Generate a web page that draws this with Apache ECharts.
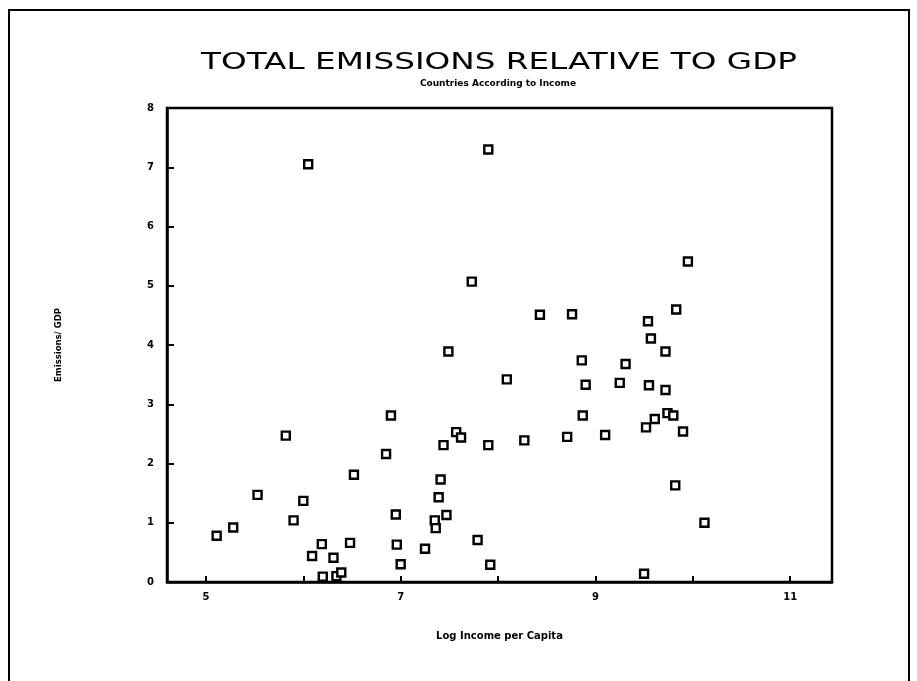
<!DOCTYPE html>
<html>
<head>
<meta charset="utf-8">
<title>Total Emissions Relative to GDP</title>
<script src="https://cdn.jsdelivr.net/npm/echarts@6/dist/echarts.min.js"></script>
<style>
  html, body { margin: 0; padding: 0; background: #fff; }
  #chart { width: 917px; height: 681px; }
</style>
</head>
<body>
<div id="chart"></div>
<script>
// Log income per capita for each country
const logIncome = [
  5.11, 5.28, 5.53, 5.82, 5.90, 6.00, 6.05, 6.09, 6.19, 6.20,
  6.31, 6.34, 6.39, 6.48, 6.52, 6.85, 6.90, 6.95, 6.96, 7.00,
  7.25, 7.35, 7.36, 7.39, 7.41, 7.44, 7.47, 7.49, 7.57, 7.62,
  7.73, 7.79, 7.90, 7.90, 7.92, 8.09, 8.27, 8.43, 8.71, 8.76,
  8.86, 8.87, 8.90, 9.10, 9.25, 9.31, 9.50, 9.52, 9.54, 9.55,
  9.57, 9.61, 9.72, 9.72, 9.74, 9.80, 9.82, 9.83, 9.90, 9.95,
  10.12
];
// Total emissions divided by GDP, same country order
const emissionsPerGdp = [
  0.78, 0.92, 1.47, 2.47, 1.04, 1.37, 7.05, 0.44, 0.64, 0.09,
  0.41, 0.10, 0.16, 0.66, 1.81, 2.16, 2.81, 1.14, 0.63, 0.30,
  0.56, 1.04, 0.91, 1.43, 1.73, 2.31, 1.13, 3.89, 2.53, 2.44,
  5.07, 0.71, 7.30, 2.31, 0.29, 3.42, 2.39, 4.51, 2.45, 4.52,
  3.74, 2.81, 3.33, 2.48, 3.36, 3.68, 0.14, 2.61, 4.40, 3.32,
  4.11, 2.75, 3.89, 3.24, 2.85, 2.81, 1.63, 4.60, 2.54, 5.41,
  1.00
];
// Axis tick positions and labelled values
const xTicks = [5, 6, 7, 8, 9, 10, 11];
const xLabels = [5, 7, 9, 11];
const yTicks = [0, 1, 2, 3, 4, 5, 6, 7, 8];

const titleText = 'TOTAL EMISSIONS RELATIVE TO GDP';
const subtitleText = 'Countries According to Income';
const xName = 'Log Income per Capita';
const yName = 'Emissions/ GDP';

const points = logIncome.map((x, i) => [x, emissionsPerGdp[i]]);

const chart = echarts.init(document.getElementById('chart'), null, { renderer: 'canvas' });
const labelFont = { color: '#000', fontFamily: 'DejaVu Sans', fontWeight: 'bold', fontSize: 10 };

chart.setOption({
  animation: false,
  backgroundColor: '#fff',
  grid: {
    left: 167, right: 85, top: 108, bottom: 99,
    show: true, borderColor: '#000', borderWidth: 2.5, backgroundColor: 'transparent'
  },
  graphic: [
    {
      type: 'rect', silent: true,
      shape: { x: 9, y: 10, width: 900, height: 720 },
      style: { fill: 'none', stroke: '#000', lineWidth: 2 }
    },
    {
      type: 'text', x: 499, y: 63, scaleX: 1.42, silent: true,
      style: {
        text: titleText, x: 0, y: 0,
        align: 'center', verticalAlign: 'middle',
        textAlign: 'center', textVerticalAlign: 'middle',
        font: '23px "DejaVu Sans"', fill: '#000'
      }
    },
    {
      type: 'text', x: 498, y: 84, silent: true,
      style: {
        text: subtitleText, x: 0, y: 0,
        align: 'center', verticalAlign: 'middle',
        textAlign: 'center', textVerticalAlign: 'middle',
        font: 'bold 9px "DejaVu Sans"', fill: '#000'
      }
    }
  ],
  xAxis: {
    type: 'value',
    min: 4.6, max: 11.43,
    name: xName,
    nameLocation: 'middle',
    nameGap: 49,
    nameTextStyle: labelFont,
    axisLine: { show: true, onZero: false, lineStyle: { color: '#000', width: 2.5 } },
    axisTick: { show: true, inside: true, length: 6, customValues: xTicks, lineStyle: { color: '#000', width: 2 } },
    axisLabel: { show: true, margin: 10, customValues: xLabels, ...labelFont },
    splitLine: { show: false }
  },
  yAxis: {
    type: 'value',
    min: 0, max: 8, interval: 1,
    name: yName,
    nameLocation: 'middle',
    nameRotate: 90,
    nameGap: 104,
    nameTextStyle: { ...labelFont, fontSize: 8.5 },
    axisLine: { show: true, onZero: false, lineStyle: { color: '#000', width: 2.5 } },
    axisTick: { show: true, inside: true, length: 7, customValues: yTicks, lineStyle: { color: '#000', width: 2 } },
    axisLabel: { show: true, margin: 13, customValues: yTicks, ...labelFont },
    splitLine: { show: false }
  },
  series: [{
    type: 'scatter',
    data: points,
    symbol: 'rect',
    symbolSize: 8,
    itemStyle: { color: '#fff', borderColor: '#000', borderWidth: 2.4, opacity: 1 }
  }]
});
</script>
</body>
</html>
